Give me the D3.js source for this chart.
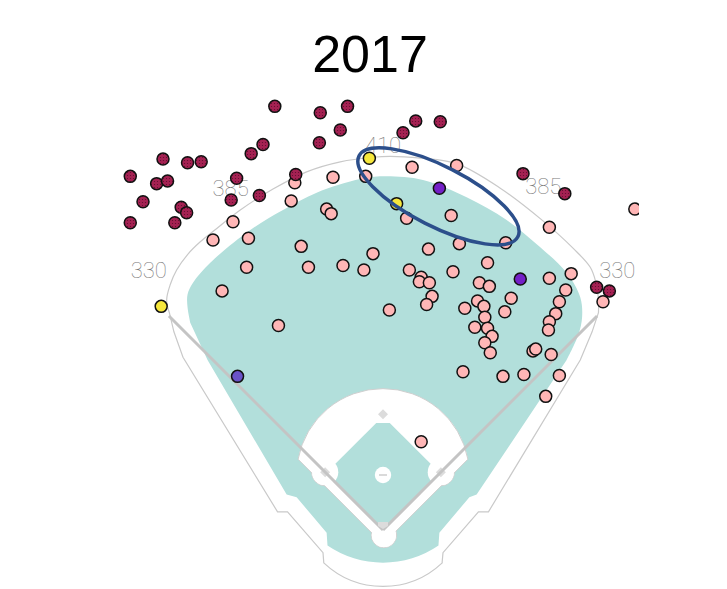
<!DOCTYPE html>
<html><head><meta charset="utf-8">
<script src="https://cdn.jsdelivr.net/npm/d3@7"></script>
<style>html,body{margin:0;padding:0;background:#fff;} svg{display:block;}</style>
</head><body>
<svg id="chart" width="727" height="589"></svg>
<script>
// ---------------- DATA (hit locations in feet from home plate; x: toward 1B, y: toward CF) ----------------
const chartTitle = "2017";
const homeRuns = [[-119,466],[-69,459],[-39,466],[-47,440],[-70,426],[-132,424],[-145,414],[-242,408],[-215,404],[-200,405],
  [-278,389],[-249,381],[-237,384],[-161,387],[-96,391],[-264,361],[-222,355],[-216,349],[-278,338],[-229,338],
  [-167,363],[-136,368],[36,450],[63,449],[22,437],[154,392],[200,370],[235,267],[249,263]];
const outs = [[-55,388],[-97,382],[-101,362],[-62,353],[-57,348],[-165,339],[-187,319],[-148,321],[-90,312],[-150,289],
  [-82,289],[-44,291],[-21,286],[-11,304],[-177,263],[-115,225],[7,242],[32,399],[81,401],[-19,389],
  [26,343],[75,346],[183,333],[277,353],[135,316],[84,315],[50,309],[115,294],[29,286],[42,278],
  [40,273],[51,272],[54,257],[48,248],[77,284],[106,272],[117,268],[141,255],[183,277],[207,282],
  [201,264],[194,251],[242,251],[90,244],[104,252],[111,246],[134,240],[112,234],[101,223],[115,222],
  [120,213],[112,206],[118,195],[190,238],[183,229],[182,220],[165,197],[168,199],[185,193],[88,174],
  [132,169],[155,171],[194,170],[179,147],[42,97]];
const doubles = [[-15,409],[15,359],[-244,246]];
const triples = [[62,376],[151,276]];
const singles = [[-160,169]];
const wallDistances = ["330","385","410","385","330"];
const highlightEllipse = [61, 367, 98, 33, 27]; // cx, cy, rx, ry (feet), tilt (deg)

// ---------------- FIELD GEOMETRY (feet) ----------------
const wallPts = [[-235,239],[-238,253],[-234,270],[-227,286],[-215,303],[-201,317],[-185,330],[-157,352],[-121,375],
  [-84,394],[-47,405],[-11,410],[8,411],[41,409],[81,403],[129,376],[176,340],[209,310],[228,289],[234,273],[237,253],[237,239]];
const outerRight = [[230,218],[217,187],[116,20],[105,20],[66,-25],[65,-36]];
const outerLeft = [[-66,-25],[-105,20],[-116,20],[-220,190],[-230,218]];
const grassTop = [[-212,228],[-215,245],[-215,259],[-209,272],[-190,294],[-146,330],[-110,352],[-73,371],[-25,386],[0,389],
  [44,385],[92,366],[136,341],[173,311],[202,283],[217,256],[219,234],[215,215],[202,187]];
const grassRight = [[103,39],[95,36],[62,-3],[61,-17]];
const grassLeft = [[-62,-3],[-95,36],[-106,39],[-193,187],[-212,228]];

// ---------------- SCALES ----------------
const k = 100/110;
const x = d3.scaleLinear().domain([0,110]).range([383,483]);
const y = d3.scaleLinear().domain([0,110]).range([530,430]);
const P = d => [x(d[0]), y(d[1])];
const svg = d3.select("#chart");

const defs = svg.append("defs");
const pat = defs.append("pattern").attr("id","hrDots").attr("width",3).attr("height",3).attr("patternUnits","userSpaceOnUse");
pat.append("rect").attr("width",3).attr("height",3).attr("fill","#a42152");
pat.append("circle").attr("cx",1.5).attr("cy",1.5).attr("r",0.6).attr("fill","#5e0c2d");
defs.append("clipPath").attr("id","clip").append("rect").attr("x",0).attr("y",0).attr("width",639).attr("height",589);

const field = svg.append("g");
const curve = d3.line().curve(d3.curveCatmullRom.alpha(0.5));
function arcTo(ctx, c, rFt, from, to) {
  const cp = P(c), a = P(from), b = P(to);
  const a0 = Math.atan2(a[1]-cp[1], a[0]-cp[0]);
  const a1 = Math.atan2(b[1]-cp[1], b[0]-cp[0]);
  ctx.arc(cp[0], cp[1], rFt*k, a0, a1, false);
}

// outer field boundary
{
  const ctx = d3.path();
  curve.context(ctx)(wallPts.map(P));
  outerRight.forEach(p => ctx.lineTo(...P(p)));
  arcTo(ctx, [0,33], 95, [65,-36], [-65,-36]);
  outerLeft.forEach(p => ctx.lineTo(...P(p)));
  ctx.closePath();
  field.append("path").attr("d", ctx.toString()).attr("fill","#fff").attr("stroke","#c9c9c9").attr("stroke-width",1.2);
}
// grass
{
  const ctx = d3.path();
  curve.context(ctx)(grassTop.map(P));
  grassRight.forEach(p => ctx.lineTo(...P(p)));
  arcTo(ctx, [0,72], 108, [61,-17], [-61,-17]);
  grassLeft.forEach(p => ctx.lineTo(...P(p)));
  ctx.closePath();
  field.append("path").attr("d", ctx.toString()).attr("fill","#b2dfdb");
}
// infield
const s2 = Math.SQRT1_2;
const mound = [0, 60.5], infR = 95, band = 11;
const uv = (u, v) => [(u - v)*s2, (u + v)*s2];
const firstB = uv(90,0), secondB = uv(90,90), thirdB = uv(0,90);
const baseR = 15, homeC = [1,-5.5], homeR = 14;
function bandPt(side, t) { // side -1 left, +1 right
  const d = [side*s2, s2], n = [side*s2, -s2];
  return [t*d[0] + band*n[0], t*d[1] + band*n[1]];
}
function bandHit(side) {
  const d = [side*s2, s2], n = [side*s2, -s2];
  const A = [band*n[0]-mound[0], band*n[1]-mound[1]];
  const dA = d[0]*A[0] + d[1]*A[1];
  const AA = A[0]*A[0] + A[1]*A[1];
  return -dA + Math.sqrt(dA*dA - AA + infR*infR);
}
[firstB, thirdB].forEach(b => field.append("circle").attr("cx",x(b[0])).attr("cy",y(b[1])).attr("r",baseR*k)
  .attr("fill","#fff").attr("stroke","#cfcfcf").attr("stroke-width",1));
field.append("circle").attr("cx",x(homeC[0])).attr("cy",y(homeC[1])).attr("r",homeR*k)
  .attr("fill","#fff").attr("stroke","#cfcfcf").attr("stroke-width",1);
{
  const ctx = d3.path();
  const tL = bandHit(-1), tR = bandHit(1);
  ctx.moveTo(...P(bandPt(-1,0)));
  ctx.lineTo(...P(bandPt(-1,tL)));
  arcTo(ctx, mound, infR, bandPt(-1,tL), bandPt(1,tR));
  ctx.lineTo(...P(bandPt(1,0)));
  ctx.closePath();
  field.append("path").attr("d", ctx.toString()).attr("fill","#fff").attr("stroke","#cfcfcf").attr("stroke-width",1);
}
{
  const m = 88.5, c = 78;
  const pts = [uv(0,0), uv(m,0), uv(m,c), uv(c,m), uv(0,m)].map(P);
  field.append("path").attr("d", d3.line()(pts) + "Z").attr("fill","#b2dfdb");
}
[firstB, thirdB].forEach(b => field.append("circle").attr("cx",x(b[0])).attr("cy",y(b[1])).attr("r",baseR*k - 0.5).attr("fill","#fff"));
field.append("circle").attr("cx",x(homeC[0])).attr("cy",y(homeC[1])).attr("r",homeR*k - 0.5).attr("fill","#fff");
field.append("circle").attr("cx",x(mound[0])).attr("cy",y(mound[1])).attr("r",9*k).attr("fill","#fff");
field.append("rect").attr("x",x(mound[0])-4).attr("y",y(mound[1])-1).attr("width",8).attr("height",2).attr("fill","#dadada");
[firstB, secondB, thirdB].forEach(b => {
  const cx = x(b[0]), cy = y(b[1]), h = 5;
  field.append("path").attr("d", `M${cx},${cy-h}L${cx+h},${cy}L${cx},${cy+h}L${cx-h},${cy}Z`).attr("fill","#dcdcdc");
});
const pole = 333*s2;
[[-pole,pole],[pole,pole]].forEach(p => field.append("line")
  .attr("x1",x(0)).attr("y1",y(0)).attr("x2",x(p[0])).attr("y2",y(p[1]))
  .attr("stroke","#c4c4c4").attr("stroke-width",3));
{
  const cx = x(0), cy = y(0);
  field.append("path").attr("d", `M${cx-5},${cy-8}L${cx+5},${cy-8}L${cx+5},${cy-4}L${cx},${cy-1}L${cx-5},${cy-4}Z`).attr("fill","#dcdcdc");
}

// wall distance labels
const labelAngles = [-42,-24,0,25,42], labelRadii = [385,412,423,417,385];
svg.append("g").selectAll("text").data(wallDistances).join("text")
  .attr("x",(d,i)=>x(labelRadii[i]*Math.sin(labelAngles[i]*Math.PI/180)))
  .attr("y",(d,i)=>y(labelRadii[i]*Math.cos(labelAngles[i]*Math.PI/180)) + 8)
  .attr("text-anchor","middle").attr("font-family","Roboto, 'Open Sans', sans-serif").attr("font-weight",100)
  .attr("font-size",22).attr("fill","#7a7a7a").text(d=>d);

// points
const pts = svg.append("g").attr("clip-path","url(#clip)");
const groups = [[outs,"#ffb6b6"],[homeRuns,"url(#hrDots)"],[doubles,"#f6e73c"],[triples,"#7420c8"],[singles,"#6a53c9"]];
groups.forEach(([data, fill]) => {
  pts.append("g").selectAll("circle").data(data).join("circle")
    .attr("cx",d=>x(d[0])).attr("cy",d=>y(d[1])).attr("r",6)
    .attr("fill",fill).attr("stroke","#111").attr("stroke-width",1.5);
});

// highlight ellipse
{
  const [cx, cy, rx, ry, ang] = highlightEllipse;
  svg.append("ellipse").attr("cx",0).attr("cy",0).attr("rx",rx*k).attr("ry",ry*k)
    .attr("transform",`translate(${x(cx)},${y(cy)}) rotate(${ang})`)
    .attr("fill","none").attr("stroke","#2c4f8b").attr("stroke-width",3.5);
}

// title
svg.append("text").attr("x",370).attr("y",72).attr("text-anchor","middle")
  .attr("font-family","'Liberation Sans', Arial, sans-serif").attr("font-size",52).attr("fill","#000").text(chartTitle);
</script>
</body></html>
